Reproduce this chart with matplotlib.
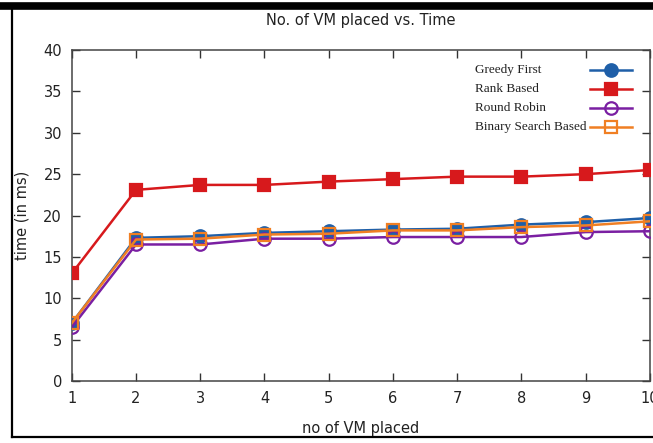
import matplotlib
matplotlib.use("Agg")
import matplotlib.pyplot as plt
from matplotlib.lines import Line2D

# ------------------------------------------------------------
# data
# ------------------------------------------------------------
vms = [1, 2, 3, 4, 5, 6, 7, 8, 9, 10]
greedy = [7.0, 17.3, 17.5, 17.9, 18.1, 18.3, 18.4, 18.9, 19.2, 19.7]
rank = [13.0, 23.1, 23.7, 23.7, 24.1, 24.4, 24.7, 24.7, 25.0, 25.5]
round_robin = [6.5, 16.5, 16.5, 17.2, 17.2, 17.4, 17.4, 17.4, 18.0, 18.1]
binary = [7.0, 17.1, 17.2, 17.7, 17.8, 18.2, 18.2, 18.6, 18.8, 19.3]

labels = ["Greedy First", "Rank Based", "Round Robin", "Binary Search Based"]
colors = ["#1f5fa8", "#d7191c", "#7a1fa2", "#f07f23"]
markers = ["o", "s", "o", "s"]
filled = [True, True, False, False]
series = [greedy, rank, round_robin, binary]

fig = plt.figure(figsize=(6.53, 4.43), dpi=100)
ax = fig.add_axes([0.110, 0.140, 0.885, 0.747])

for ys, c, m, f, lab in zip(series, colors, markers, filled, labels):
    ax.plot(vms, ys, color=c, lw=1.8, marker=m, markersize=9 if m == "o" else 8.5,
            markerfacecolor=c if f else "none", markeredgecolor=c,
            markeredgewidth=1.6, label=lab, zorder=3)

ax.set_xlim(1, 10)
ax.set_ylim(0, 40)
ax.set_xticks(vms)
ax.set_yticks(range(0, 41, 5))
ax.tick_params(direction="in", top=True, right=True, length=6, width=1,
               labelsize=10.5, pad=7, colors="#333333", labelcolor="#222222")
for s in ax.spines.values():
    s.set_color("#444444")
    s.set_linewidth(1.1)

ax.set_title("No. of VM placed vs. Time", fontsize=10.5, pad=18, color="#222222")
ax.set_xlabel("no of VM placed", fontsize=10.5, labelpad=11, color="#222222")
ax.set_ylabel("time (in ms)", fontsize=10.5, labelpad=10, color="#222222")

# key, gnuplot style: text left-justified, sample to the right
rows_y = [0.940, 0.882, 0.825, 0.767]
for lab, c, m, f, yy in zip(labels, colors, markers, filled, rows_y):
    ax.text(0.697, yy, lab, transform=ax.transAxes, va="center", ha="left",
            fontsize=9.5, family="Liberation Serif", color="#222222")
    ax.add_line(Line2D([0.896, 0.970], [yy, yy], transform=ax.transAxes,
                       color=c, lw=1.8, zorder=4))
    ax.add_line(Line2D([0.933], [yy], transform=ax.transAxes, color=c,
                       marker=m, markersize=9 if m == "o" else 8.5,
                       markerfacecolor=c if f else "none", markeredgecolor=c,
                       markeredgewidth=1.6, zorder=5))

# scanned-page frame around the figure
fig.add_artist(Line2D([0, 1], [1 - 5.5 / 443] * 2, color="black", lw=5.5))
fig.add_artist(Line2D([11.5 / 653] * 2, [1 - 9 / 443, 1 - 437 / 443], color="black", lw=1.6))
fig.add_artist(Line2D([11.5 / 653, 1], [1 - 437 / 443] * 2, color="black", lw=1.6))

fig.savefig("out.png", dpi=100)
